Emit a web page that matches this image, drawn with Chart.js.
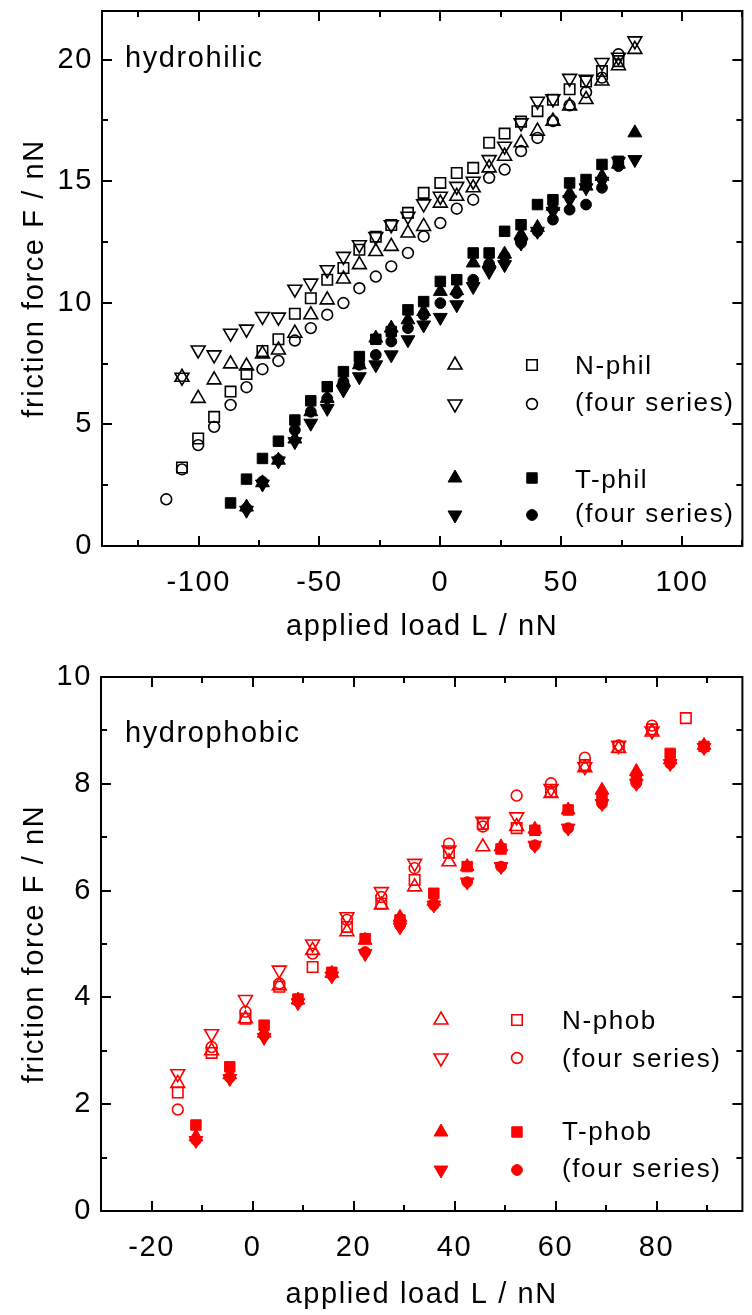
<!DOCTYPE html>
<html>
<head>
<meta charset="utf-8">
<script src="https://cdn.jsdelivr.net/npm/chart.js@4.4.1/dist/chart.umd.min.js"></script>
<style>
  html, body { margin: 0; padding: 0; background: #fff; }
  canvas { display: block; }
</style>
</head>
<body>
<canvas id="phil" width="752" height="660"></canvas>
<canvas id="phob" width="752" height="655"></canvas>
<script>
// ---- hydrophilic pair: applied load (nN) and friction force (nN) ----
const philLoadN = [-113.4, -106.9, -100.2, -93.6, -86.8, -80.2, -73.6, -67.0, -60.2, -53.6,
  -46.8, -40.1, -33.5, -26.7, -20.3, -13.4, -6.9, 0.0, 6.8, 13.6,
  20.2, 26.6, 33.4, 40.2, 46.6, 53.5, 60.3, 66.9, 73.7, 80.5];
const philUpN = [null, 6.94, 6.07, 6.83, 7.49, 7.40, 7.90, 8.06, 8.75, 9.51,
  10.12, 10.98, 11.57, 12.11, 12.32, 12.87, 13.14, 14.10, 14.38, 14.73,
  15.55, 16.03, 16.58, 17.06, 17.47, 18.10, 18.36, 19.12, 19.75, 20.42];
const philDownN = [null, 6.94, 8.06, 7.86, 8.75, 8.92, 9.44, 9.41, 10.56, 10.81,
  11.36, 11.91, 12.39, 12.72, 13.21, 13.56, 14.07, 14.38, 14.79, 15.00,
  15.89, 16.44, 17.40, 18.29, 18.39, 19.23, 19.19, 19.88, 20.10, 20.77];
const philSquareN = [null, 3.23, 4.42, 5.31, 6.35, 7.07, 8.02, 8.50, 9.55, 10.19,
  10.95, 11.43, 12.18, 12.72, 13.20, 13.70, 14.52, 14.93, 15.34, 15.55,
  16.58, 16.96, 17.45, 17.88, 18.35, 18.78, 19.10, 19.53, 19.94, null];
const philCircleN = [1.92, 3.15, 4.15, 4.90, 5.80, 6.53, 7.27, 7.61, 8.45, 8.96,
  9.51, 9.99, 10.60, 11.08, 11.50, 12.05, 12.73, 13.28, 13.87, 14.24,
  15.14, 15.48, 16.24, 16.78, 17.47, 18.12, 18.66, 19.26, 20.22, null];

const philLoadT = [-86.8, -80.2, -73.6, -67.0, -60.2, -53.6, -46.8, -40.1, -33.5, -26.7,
  -20.3, -13.4, -6.9, 0.0, 6.8, 13.6, 20.2, 26.6, 33.4, 40.2,
  46.6, 53.5, 60.3, 66.9, 73.7, 80.5];
const philUpT = [null, 1.60, 2.60, 3.53, 4.40, 5.52, 6.07, 6.76, 7.45, 8.55,
  8.96, 9.30, 9.64, 10.47, 10.50, 11.64, 11.64, 12.00, 12.80, 13.10,
  13.97, 14.50, 14.80, 15.20, 15.70, 16.99];
const philDownT = [null, 1.47, 2.55, 3.50, 4.29, 5.05, 5.66, 6.42, 6.96, 7.45,
  7.86, 8.48, 9.09, 9.40, 9.92, 10.67, 11.29, 11.57, 12.46, 12.94,
  13.76, 14.24, 14.73, 15.00, 15.82, 15.89];
const philSquareT = [1.77, 2.75, 3.60, 4.31, 5.18, 5.97, 6.55, 7.17, 7.79, 8.50,
  8.82, 9.71, 10.05, 10.88, 10.95, 12.05, 12.05, 12.94, 13.21, 14.04,
  14.24, 14.93, 15.07, 15.69, 15.82, null];
const philCircleT = [null, 1.55, 2.65, 3.55, 4.77, 5.52, 6.07, 6.76, 7.45, 7.86,
  8.41, 8.96, 9.50, 9.99, 10.40, 10.95, 11.60, 11.91, 12.46, 12.94,
  13.42, 13.83, 14.04, 14.73, 15.62, null];

const philLoadTicks = [-100, -50, 0, 50, 100];
const philLoadMinor = [-125, -75, -25, 25, 75, 125];
const philForceTicks = [0, 5, 10, 15, 20];
const philForceMinor = [2.5, 7.5, 12.5, 17.5];

// ---- hydrophobic pair ----
const phobLoadN = [-14.8, -8.1, -1.4, 5.3, 11.9, 18.7, 25.5, 32.1, 38.9, 45.6, 52.3, 59.1, 65.8, 72.5, 79.1, 85.8];
const phobUpN = [2.39, 3.00, 3.60, 4.22, 4.88, 5.23, 5.73, 6.07, 6.54, 6.82, 7.20, 7.82, 8.30, 8.66, 8.97, null];
const phobDownN = [2.57, 3.32, 3.96, 4.51, 5.00, 5.51, 5.98, 6.51, 6.76, 7.30, 7.38, 7.91, 8.32, 8.72, 8.99, null];
const phobSquareN = [2.22, 2.96, 3.60, 4.20, 4.57, 5.32, 5.76, 6.20, 6.71, 7.25, 7.17, 7.85, 8.35, 8.69, 9.02, 9.23];
const phobCircleN = [1.90, 3.07, 3.73, 4.26, 4.82, 5.45, 5.88, 6.42, 6.88, 7.20, 7.78, 8.01, 8.49, 8.72, 9.09, null];

const phobLoadT = [-11.2, -4.5, 2.3, 9.0, 15.7, 22.3, 29.2, 35.9, 42.5, 49.2, 55.9, 62.5, 69.2, 76.0, 82.7, 89.4];
const phobUpT = [1.39, 2.55, 3.33, 3.95, 4.45, 5.07, 5.50, 5.80, 6.45, 6.82, 7.15, 7.51, 7.88, 8.23, 8.45, 8.72];
const phobDownT = [1.32, 2.48, 3.25, 3.90, 4.40, 4.82, 5.32, 5.73, 6.16, 6.45, 6.85, 7.17, 7.63, 8.01, 8.38, 8.68];
const phobSquareT = [1.61, 2.70, 3.48, 3.97, 4.47, 5.10, 5.45, 5.95, 6.45, 6.78, 7.13, 7.51, 7.76, 8.10, 8.57, 8.70];
const phobCircleT = [1.33, 2.50, 3.29, 3.93, 4.42, 4.85, 5.35, 5.73, 6.16, 6.45, 6.85, 7.17, 7.63, 8.01, 8.38, 8.68];

const phobLoadTicks = [-20, 0, 20, 40, 60, 80];
const phobLoadMinor = [-10, 10, 30, 50, 70, 90];
const phobForceTicks = [0, 2, 4, 6, 8, 10];
const phobForceMinor = [1, 3, 5, 7, 9];

const FONT = "'Liberation Sans', Arial, sans-serif";
const FONT_SIZE = 29;
const KEY_SIZE = 26;
const SPACING = '1.6px';

// marker radii per shape
const radius = { up: 8, down: 8, rect: 7.4, circle: 5.4 };

function pts(xs, ys) {
  return xs.map((x, i) => ({ x: x, y: ys[i] })).filter(p => p.y !== null);
}

function series(label, xs, ys, shape, filled, color) {
  const tri = shape === 'up' || shape === 'down';
  return {
    label: label,
    data: pts(xs, ys),
    showLine: false,
    pointStyle: tri ? 'triangle' : shape,
    pointRotation: shape === 'down' ? 180 : 0,
    pointRadius: radius[shape],
    pointHoverRadius: radius[shape],
    pointBackgroundColor: filled ? color : 'rgba(0,0,0,0)',
    pointBorderColor: color,
    pointBorderWidth: filled ? 1 : 1.6
  };
}

function marker(ctx, shape, filled, color, x, y) {
  ctx.save();
  ctx.fillStyle = filled ? color : 'rgba(0,0,0,0)';
  ctx.strokeStyle = color;
  ctx.lineWidth = filled ? 1 : 1.6;
  Chart.helpers.drawPoint(ctx, {
    pointStyle: (shape === 'up' || shape === 'down') ? 'triangle' : shape,
    rotation: shape === 'down' ? 180 : 0,
    radius: radius[shape],
    borderWidth: ctx.lineWidth
  }, x, y);
  ctx.restore();
}

// box frame with inward ticks on all four sides, plus panel label and key
function framePlugin(cfg) {
  return {
    id: 'frame',
    beforeDraw(chart) {
      chart.ctx.letterSpacing = SPACING;
    },
    afterDraw(chart) {
      const ctx = chart.ctx;
      const a = chart.chartArea;
      const xs = chart.scales.x, ys = chart.scales.y;
      ctx.save();
      ctx.strokeStyle = '#000';
      ctx.lineWidth = 2;
      ctx.strokeRect(a.left, a.top, a.right - a.left, a.bottom - a.top);
      ctx.beginPath();
      const tx = (v, len) => {
        const p = Math.round(xs.getPixelForValue(v));
        ctx.moveTo(p, a.bottom); ctx.lineTo(p, a.bottom - len);
        ctx.moveTo(p, a.top); ctx.lineTo(p, a.top + len);
      };
      const ty = (v, len) => {
        const p = Math.round(ys.getPixelForValue(v));
        ctx.moveTo(a.left, p); ctx.lineTo(a.left + len, p);
        ctx.moveTo(a.right, p); ctx.lineTo(a.right - len, p);
      };
      cfg.xMajor.forEach(v => tx(v, 10));
      cfg.xMinor.forEach(v => tx(v, 6));
      cfg.yMajor.forEach(v => ty(v, 10));
      cfg.yMinor.forEach(v => ty(v, 6));
      ctx.stroke();

      ctx.fillStyle = '#000';
      ctx.letterSpacing = SPACING;
      ctx.textAlign = 'left';
      ctx.textBaseline = 'alphabetic';
      ctx.font = FONT_SIZE + 'px ' + FONT;
      ctx.fillText(cfg.label, cfg.labelX, cfg.labelY);

      const k = cfg.key;
      ctx.font = KEY_SIZE + 'px ' + FONT;
      k.rows.forEach(r => {
        marker(ctx, r.left, r.filled, cfg.color, k.x1, r.y);
        marker(ctx, r.right, r.filled, cfg.color, k.x2, r.y);
        ctx.fillStyle = '#000';
        ctx.fillText(r.text, k.tx, r.ty);
      });
      ctx.restore();
    }
  };
}

function makeChart(id, d) {
  const font = { family: FONT, size: FONT_SIZE };
  new Chart(document.getElementById(id), {
    type: 'scatter',
    data: { datasets: d.datasets },
    options: {
      responsive: false,
      animation: false,
      events: [],
      layout: { padding: d.padding },
      plugins: { legend: { display: false }, tooltip: { enabled: false } },
      scales: {
        x: {
          type: 'linear', min: d.xMin, max: d.xMax,
          afterBuildTicks: s => { s.ticks = d.xMajor.map(v => ({ value: v })); },
          afterFit: s => { s.height = d.xHeight; s.paddingLeft = 0; s.paddingRight = 0; },
          grid: { display: false, drawTicks: false },
          border: { display: false },
          ticks: { color: '#000', font: font, padding: d.xTickPad, maxRotation: 0 },
          title: { display: true, text: 'applied load L / nN', color: '#000', font: font,
                   padding: { top: 0, bottom: d.xTitlePad } }
        },
        y: {
          type: 'linear', min: d.yMin, max: d.yMax,
          afterBuildTicks: s => { s.ticks = d.yMajor.map(v => ({ value: v })); },
          afterFit: s => { s.width = d.yWidth; s.paddingTop = 0; s.paddingBottom = 0; },
          grid: { display: false, drawTicks: false },
          border: { display: false },
          ticks: { color: '#000', font: font, padding: 9 },
          title: { display: true, text: 'friction force F / nN', color: '#000', font: font,
                   padding: { top: 18, bottom: 0 } }
        }
      }
    },
    plugins: [framePlugin(d)]
  });
}

const black = '#000000';
const red = '#ff0000';

makeChart('phil', {
  datasets: [
    series('N up', philLoadN, philUpN, 'up', false, black),
    series('N down', philLoadN, philDownN, 'down', false, black),
    series('N square', philLoadN, philSquareN, 'rect', false, black),
    series('N circle', philLoadN, philCircleN, 'circle', false, black),
    series('T up', philLoadT, philUpT, 'up', true, black),
    series('T down', philLoadT, philDownT, 'down', true, black),
    series('T square', philLoadT, philSquareT, 'rect', true, black),
    series('T circle', philLoadT, philCircleT, 'circle', true, black)
  ],
  padding: { top: 11, right: 2, left: 0, bottom: 0 },
  xMin: -140, xMax: 125, yMin: 0, yMax: 22,
  xMajor: philLoadTicks, xMinor: philLoadMinor,
  yMajor: philForceTicks, yMinor: philForceMinor,
  xHeight: 114, yWidth: 102, xTickPad: 20, xTitlePad: 16,
  color: black,
  label: 'hydrohilic', labelX: 125, labelY: 67,
  key: {
    x1: 455, x2: 532, tx: 575,
    rows: [
      { left: 'up', right: 'rect', filled: false, y: 365, ty: 374, text: 'N-phil' },
      { left: 'down', right: 'circle', filled: false, y: 404, ty: 411, text: '(four series)' },
      { left: 'up', right: 'rect', filled: true, y: 478, ty: 488, text: 'T-phil' },
      { left: 'down', right: 'circle', filled: true, y: 515, ty: 522, text: '(four series)' }
    ]
  }
});

makeChart('phob', {
  datasets: [
    series('N up', phobLoadN, phobUpN, 'up', false, red),
    series('N down', phobLoadN, phobDownN, 'down', false, red),
    series('N square', phobLoadN, phobSquareN, 'rect', false, red),
    series('N circle', phobLoadN, phobCircleN, 'circle', false, red),
    series('T up', phobLoadT, phobUpT, 'up', true, red),
    series('T down', phobLoadT, phobDownT, 'down', true, red),
    series('T square', phobLoadT, phobSquareT, 'rect', true, red),
    series('T circle', phobLoadT, phobCircleT, 'circle', true, red)
  ],
  padding: { top: 17, right: 1, left: 0, bottom: 0 },
  xMin: -30, xMax: 97, yMin: 0, yMax: 10,
  xMajor: phobLoadTicks, xMinor: phobLoadMinor,
  yMajor: phobForceTicks, yMinor: phobForceMinor,
  xHeight: 104, yWidth: 101, xTickPad: 20, xTitlePad: 3,
  color: red,
  label: 'hydrophobic', labelX: 125, labelY: 82,
  key: {
    x1: 441, x2: 517, tx: 562,
    rows: [
      { left: 'up', right: 'rect', filled: false, y: 360, ty: 369, text: 'N-phob' },
      { left: 'down', right: 'circle', filled: false, y: 398, ty: 407, text: '(four series)' },
      { left: 'up', right: 'rect', filled: true, y: 472, ty: 480, text: 'T-phob' },
      { left: 'down', right: 'circle', filled: true, y: 510, ty: 517, text: '(four series)' }
    ]
  }
});
</script>
</body>
</html>
